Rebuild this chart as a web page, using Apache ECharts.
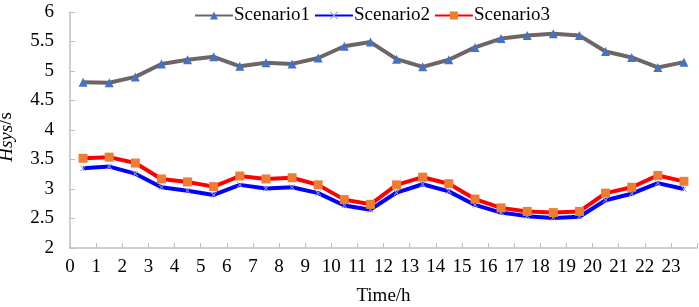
<!DOCTYPE html>
<html>
<head>
<meta charset="utf-8">
<script src="https://cdn.jsdelivr.net/npm/echarts@6/dist/echarts.min.js"></script>
<style>
  html, body { margin: 0; padding: 0; background: #fff; }
  #chart { width: 699px; height: 307px; }
</style>
</head>
<body>
<div id="chart"></div>
<script>
// hours at which the points sit (middle of each hour)
const times = [0.5, 1.5, 2.5, 3.5, 4.5, 5.5, 6.5, 7.5, 8.5, 9.5, 10.5, 11.5,
  12.5, 13.5, 14.5, 15.5, 16.5, 17.5, 18.5, 19.5, 20.5, 21.5, 22.5, 23.5]

const scenario1 = [4.81, 4.80, 4.90, 5.12, 5.19, 5.24, 5.08, 5.14, 5.12, 5.22, 5.42, 5.49,
  5.20, 5.07, 5.19, 5.40, 5.55, 5.60, 5.63, 5.60, 5.33, 5.23, 5.06, 5.15]
const scenario2 = [3.35, 3.38, 3.26, 3.03, 2.97, 2.90, 3.07, 3.01, 3.03, 2.93, 2.72, 2.65,
  2.94, 3.08, 2.96, 2.73, 2.60, 2.54, 2.51, 2.53, 2.81, 2.92, 3.10, 3.00]
const scenario3 = [3.52, 3.54, 3.44, 3.17, 3.12, 3.04, 3.22, 3.17, 3.19, 3.07, 2.82, 2.74,
  3.07, 3.20, 3.09, 2.83, 2.68, 2.62, 2.60, 2.62, 2.93, 3.03, 3.23, 3.13]

const font = 'Liberation Serif'
const fs = 19

// small cross marker
const crossPath = 'path://M0,1L1,0L5,4L9,0L10,1L6,5L10,9L9,10L5,6L1,10L0,9L4,5Z'

const pairs = (vals) => times.map((t, i) => [t, vals[i]])

const chart = echarts.init(document.getElementById('chart'))
chart.setOption({
  animation: false,
  textStyle: { fontFamily: font, color: '#000' },
  grid: { left: 70, right: 2, top: 12, bottom: 59, outerBoundsMode: 'none' },
  legend: {
    left: 189,
    top: 1,
    itemWidth: 38,
    itemHeight: 10,
    itemGap: 4,
    textStyle: { fontFamily: font, fontSize: fs, color: '#000', padding: [0, 0, 0, -4] },
    data: ['Scenario1', 'Scenario2', 'Scenario3']
  },
  xAxis: {
    type: 'value',
    min: 0,
    max: 24,
    interval: 1,
    name: 'Time/h',
    nameLocation: 'middle',
    nameGap: 39,
    nameTextStyle: { fontFamily: font, fontSize: fs, color: '#000' },
    axisLine: { lineStyle: { color: '#bfbfbf', width: 1.5 } },
    axisTick: { inside: true, length: 5, lineStyle: { color: '#bfbfbf' } },
    axisLabel: {
      fontFamily: font, fontSize: fs, color: '#000', margin: 10,
      formatter: (v) => (v === 24 ? '' : String(v))
    },
    splitLine: { show: false }
  },
  yAxis: {
    type: 'value',
    min: 2,
    max: 6,
    interval: 0.5,
    name: '{i|Hsys}{n|/s}',
    nameLocation: 'middle',
    nameGap: 54,
    nameTextStyle: {
      padding: [0, 14, 0, 0],
      rich: {
        i: { fontFamily: font, fontSize: fs, fontStyle: 'italic', color: '#000' },
        n: { fontFamily: font, fontSize: fs, color: '#000' }
      }
    },
    axisLine: { show: true, lineStyle: { color: '#bfbfbf', width: 1.5 } },
    axisTick: { show: true, inside: true, length: 5, lineStyle: { color: '#bfbfbf' } },
    axisLabel: { fontFamily: font, fontSize: fs, color: '#000', margin: 16 },
    splitLine: { show: false }
  },
  series: [{
    name: 'Scenario1',
    type: 'line',
    data: pairs(scenario1),
    symbol: 'triangle',
    symbolSize: 9,
    itemStyle: { color: '#4472c4' },
    lineStyle: { color: '#6e6567', width: 4 },
    z: 3
  }, {
    name: 'Scenario2',
    type: 'line',
    data: pairs(scenario2),
    symbol: crossPath,
    symbolSize: 6,
    itemStyle: { color: '#9aa0c8' },
    lineStyle: { color: '#0000ff', width: 4 },
    z: 2
  }, {
    name: 'Scenario3',
    type: 'line',
    data: pairs(scenario3),
    symbol: 'rect',
    symbolSize: 9,
    itemStyle: { color: '#ed7d31' },
    lineStyle: { color: '#ff0000', width: 4 },
    z: 4
  }]
})
</script>
</body>
</html>
